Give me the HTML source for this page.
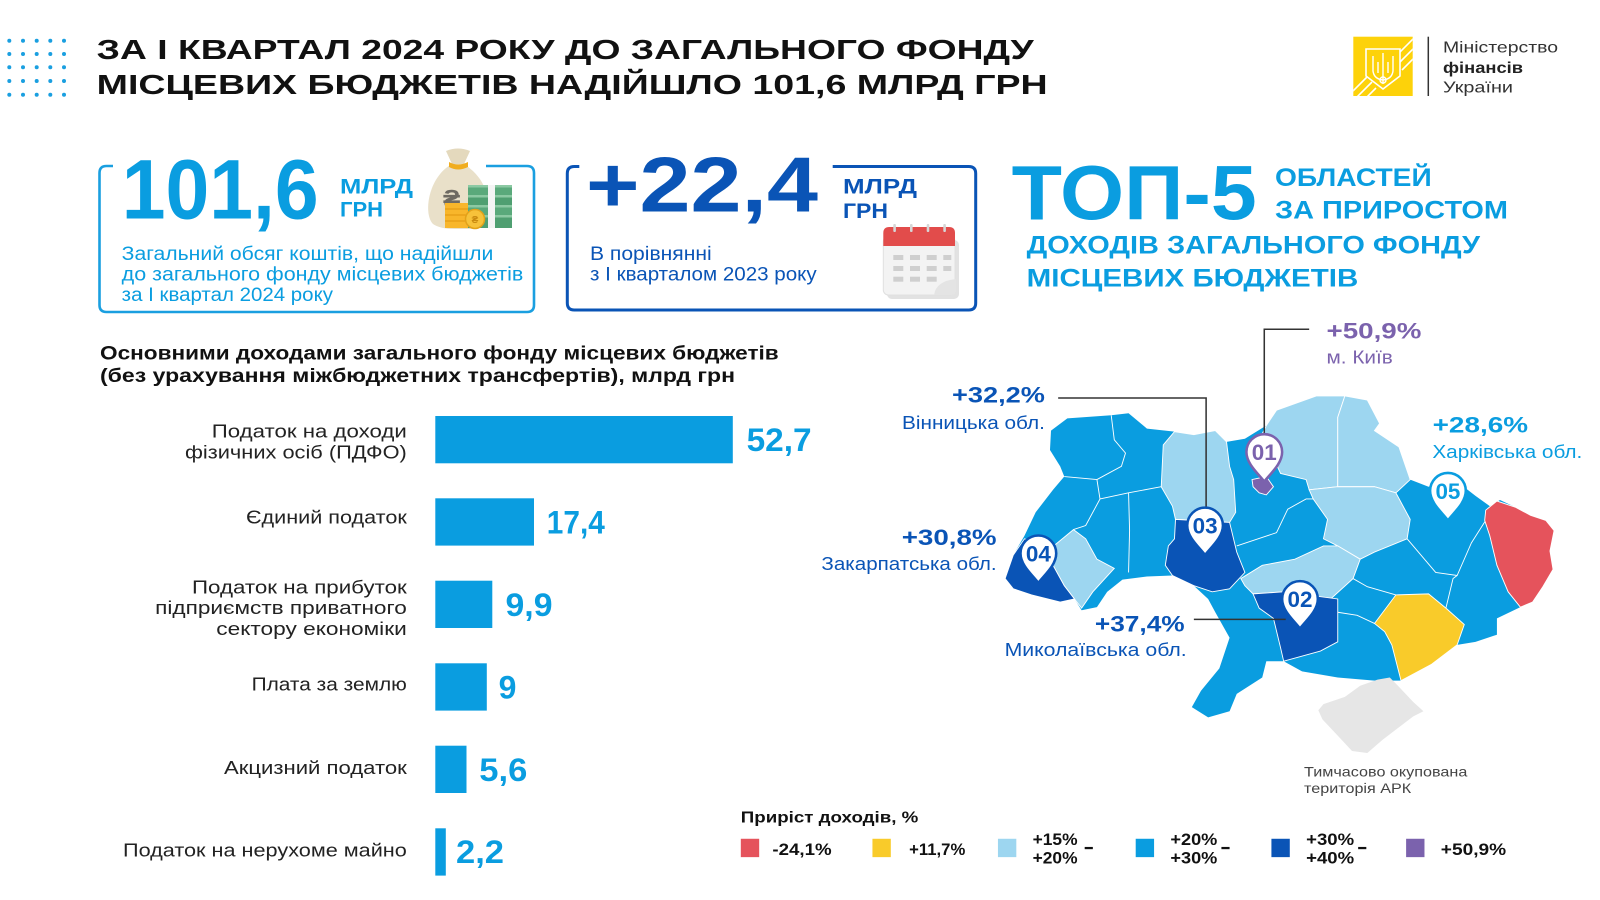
<!DOCTYPE html>
<html><head><meta charset="utf-8"><style>
html,body{margin:0;padding:0;background:#fff;}
svg{display:block;}
text{font-family:"Liberation Sans","DejaVu Sans",sans-serif;}
</style></head><body>
<svg width="1600" height="900" viewBox="0 0 1600 900" xmlns="http://www.w3.org/2000/svg">
<rect width="1600" height="900" fill="#fff"/>

<!-- dots -->
<g fill="#1a9fe0">
<circle cx="9.3" cy="40.7" r="2"/><circle cx="23" cy="40.7" r="2"/><circle cx="36.7" cy="40.7" r="2"/><circle cx="50.3" cy="40.7" r="2"/><circle cx="64" cy="40.7" r="2"/>
<circle cx="9.3" cy="54" r="2"/><circle cx="23" cy="54" r="2"/><circle cx="36.7" cy="54" r="2"/><circle cx="50.3" cy="54" r="2"/><circle cx="64" cy="54" r="2"/>
<circle cx="9.3" cy="67.3" r="2"/><circle cx="23" cy="67.3" r="2"/><circle cx="36.7" cy="67.3" r="2"/><circle cx="50.3" cy="67.3" r="2"/><circle cx="64" cy="67.3" r="2"/>
<circle cx="9.3" cy="81" r="2"/><circle cx="23" cy="81" r="2"/><circle cx="36.7" cy="81" r="2"/><circle cx="50.3" cy="81" r="2"/><circle cx="64" cy="81" r="2"/>
<circle cx="9.3" cy="94.7" r="2"/><circle cx="23" cy="94.7" r="2"/><circle cx="36.7" cy="94.7" r="2"/><circle cx="50.3" cy="94.7" r="2"/><circle cx="64" cy="94.7" r="2"/>
</g>

<!-- title -->
<text x="96.7" y="58.8" font-size="28" font-weight="bold" fill="#111" textLength="937" lengthAdjust="spacingAndGlyphs">ЗА І КВАРТАЛ 2024 РОКУ ДО ЗАГАЛЬНОГО ФОНДУ</text>
<text x="96.7" y="93.8" font-size="28" font-weight="bold" fill="#111" textLength="951" lengthAdjust="spacingAndGlyphs">МІСЦЕВИХ БЮДЖЕТІВ НАДІЙШЛО 101,6 МЛРД ГРН</text>

<!-- logo -->
<defs><clipPath id="lq"><rect x="1353.3" y="36.7" width="59.4" height="59.3"/></clipPath></defs>
<rect x="1353.3" y="36.7" width="59.4" height="59.3" fill="#fdd20a"/>
<g clip-path="url(#lq)" stroke="#fff" stroke-width="1.6">
<line x1="1392" y1="60" x2="1420" y2="32"/><line x1="1398" y1="64" x2="1426" y2="36"/><line x1="1402" y1="70" x2="1430" y2="42"/>
<line x1="1340" y1="104" x2="1370" y2="74"/><line x1="1346" y1="108" x2="1372" y2="82"/><line x1="1352" y1="112" x2="1376" y2="88"/>
</g>
<path d="M1366,49 L1400,49 L1400,76 L1383,89 L1366,76 Z" fill="#fdd20a" stroke="#fff" stroke-width="1.6"/>
<g fill="none" stroke="#fff" stroke-width="1.4">
<path d="M1383,53 L1383,84"/>
<path d="M1373,56 L1373,71 Q1374,79 1383,80 Q1392,79 1393,71 L1393,56"/>
<path d="M1378,62 L1378,73 M1388,62 L1388,73"/>
<circle cx="1383" cy="80" r="3"/>
</g>
<line x1="1428.3" y1="36.7" x2="1428.3" y2="96" stroke="#333" stroke-width="1.5"/>
<text x="1443" y="52.7" font-size="16" fill="#333" textLength="115" lengthAdjust="spacingAndGlyphs">Міністерство</text>
<text x="1443" y="72.8" font-size="16" font-weight="bold" fill="#222" textLength="80" lengthAdjust="spacingAndGlyphs">фінансів</text>
<text x="1443" y="92.7" font-size="16" fill="#333" textLength="70" lengthAdjust="spacingAndGlyphs">України</text>

<!-- box 1 -->
<path d="M113,166 L106.5,166 Q99.5,166 99.5,173 L99.5,305 Q99.5,312 106.5,312 L527,312 Q534,312 534,305 L534,173 Q534,166 527,166 L486,166" fill="none" stroke="#1a9fe0" stroke-width="2.6"/>
<text x="121.7" y="218.3" font-size="84" font-weight="bold" fill="#0a9de0" textLength="197" lengthAdjust="spacingAndGlyphs">101,6</text>
<text x="340" y="193.3" font-size="21" font-weight="bold" fill="#0a9de0" textLength="73" lengthAdjust="spacingAndGlyphs">МЛРД</text>
<text x="340" y="216.7" font-size="21" font-weight="bold" fill="#0a9de0" textLength="43" lengthAdjust="spacingAndGlyphs">ГРН</text>
<text x="121.7" y="260" font-size="19" fill="#0a9de0" textLength="371.6" lengthAdjust="spacingAndGlyphs">Загальний обсяг коштів, що надійшли</text>
<text x="121.7" y="280.5" font-size="19" fill="#0a9de0" textLength="401.6" lengthAdjust="spacingAndGlyphs">до загального фонду місцевих бюджетів</text>
<text x="121.7" y="300.8" font-size="19" fill="#0a9de0" textLength="211.3" lengthAdjust="spacingAndGlyphs">за І квартал 2024 року</text>

<!-- money bag -->
<path d="M446,151 Q458,146 470,151 L464,164 L452,164 Z" fill="#e4d9bd"/>
<path d="M452,164 C428,177 423,214 433,224 Q440,229 455,229 L470,229 Q486,229 488,214 C490,192 482,176 464,164 Z" fill="#e9e0c9"/>
<path d="M449,162 Q458,167 468,162 L468,167 Q458,172 449,167 Z" fill="#f0ad1f"/>
<text x="443" y="208" font-family="DejaVu Sans" font-weight="bold" font-size="26" fill="#6e6a62">₴</text>
<g>
<rect x="468" y="185" width="44" height="10" fill="#5aa97b"/><rect x="468" y="185" width="44" height="2.5" fill="#8cc9a3"/>
<rect x="468" y="195" width="44" height="10" fill="#4f9f71"/><rect x="468" y="195" width="44" height="2.5" fill="#8cc9a3"/>
<rect x="468" y="205" width="44" height="10" fill="#5aa97b"/><rect x="468" y="205" width="44" height="2.5" fill="#8cc9a3"/>
<rect x="468" y="215" width="44" height="13" fill="#4f9f71"/><rect x="468" y="215" width="44" height="2.5" fill="#8cc9a3"/>
<rect x="488" y="185" width="7" height="43" fill="#f4f4f4"/>
</g>
<g>
<rect x="445" y="203" width="23" height="25" fill="#f8b62b"/>
<line x1="445" y1="209" x2="468" y2="209" stroke="#e0960f" stroke-width="1"/>
<line x1="445" y1="215" x2="468" y2="215" stroke="#e0960f" stroke-width="1"/>
<line x1="445" y1="221" x2="468" y2="221" stroke="#e0960f" stroke-width="1"/>
<circle cx="475" cy="219" r="9.5" fill="#f7c23a" stroke="#e3a21a" stroke-width="1.5"/>
<text x="475" y="223" text-anchor="middle" font-family="DejaVu Sans" font-size="10" font-weight="bold" fill="#c98a10">₴</text>
</g>

<!-- box 2 -->
<path d="M579.3,166.5 L574.3,166.5 Q567.3,166.5 567.3,173.5 L567.3,303 Q567.3,310 574.3,310 L968.7,310 Q975.7,310 975.7,303 L975.7,173.5 Q975.7,166.5 968.7,166.5 L832.7,166.5" fill="none" stroke="#0a54b6" stroke-width="3"/>
<text x="586" y="211.7" font-size="78" font-weight="bold" fill="#0a54b6" textLength="232" lengthAdjust="spacingAndGlyphs">+22,4</text>
<text x="843" y="193.3" font-size="21" font-weight="bold" fill="#0a54b6" textLength="74" lengthAdjust="spacingAndGlyphs">МЛРД</text>
<text x="843" y="218" font-size="21" font-weight="bold" fill="#0a54b6" textLength="45" lengthAdjust="spacingAndGlyphs">ГРН</text>
<text x="590" y="260" font-size="19" fill="#0a54b6" textLength="121.7" lengthAdjust="spacingAndGlyphs">В порівнянні</text>
<text x="590" y="280.3" font-size="19" fill="#0a54b6" textLength="226.7" lengthAdjust="spacingAndGlyphs">з І кварталом 2023 року</text>

<!-- calendar -->
<rect x="887" y="240" width="72" height="59" rx="5" fill="#e2e2e2"/>
<rect x="883.3" y="236.7" width="71.7" height="58.3" rx="5" fill="#f3f3f3" stroke="#e0e0e0" stroke-width="1"/>
<path d="M883.3,246 L883.3,233 Q883.3,227 889.3,227 L949,227 Q955,227 955,233 L955,246 Z" fill="#e24c4b"/>
<g fill="#d6d6d6">
<rect x="893.3" y="224" width="2.6" height="8" rx="1"/><rect x="910" y="224" width="2.6" height="8" rx="1"/><rect x="926.7" y="224" width="2.6" height="8" rx="1"/><rect x="943.3" y="224" width="2.6" height="8" rx="1"/>
</g>
<g fill="#cfcfcf">
<rect x="893.3" y="255" width="10" height="5"/><rect x="910" y="255" width="10" height="5"/><rect x="926.7" y="255" width="10" height="5"/><rect x="943.3" y="255" width="8" height="5"/>
<rect x="893.3" y="266" width="10" height="5"/><rect x="910" y="266" width="10" height="5"/><rect x="926.7" y="266" width="10" height="5"/><rect x="943.3" y="266" width="8" height="5"/>
<rect x="893.3" y="276.7" width="10" height="5"/><rect x="910" y="276.7" width="10" height="5"/><rect x="926.7" y="276.7" width="10" height="5"/>
</g>
<path d="M934,295 Q936,281 956,279 L956,290 Q956,295 951,295 Z" fill="#e4e4e4"/>

<!-- TOP-5 -->
<text x="1011.7" y="219.3" font-size="77" font-weight="bold" fill="#0a9de0" textLength="245" lengthAdjust="spacingAndGlyphs">ТОП-5</text>
<text x="1275" y="186" font-size="25" font-weight="bold" fill="#0a9de0" textLength="156.7" lengthAdjust="spacingAndGlyphs">ОБЛАСТЕЙ</text>
<text x="1275" y="218.3" font-size="25" font-weight="bold" fill="#0a9de0" textLength="233" lengthAdjust="spacingAndGlyphs">ЗА ПРИРОСТОМ</text>
<text x="1026.7" y="253.3" font-size="25" font-weight="bold" fill="#0a9de0" textLength="453.3" lengthAdjust="spacingAndGlyphs">ДОХОДІВ ЗАГАЛЬНОГО ФОНДУ</text>
<text x="1026.7" y="286.7" font-size="25" font-weight="bold" fill="#0a9de0" textLength="331.6" lengthAdjust="spacingAndGlyphs">МІСЦЕВИХ БЮДЖЕТІВ</text>

<!-- bar chart -->
<text x="100" y="359.3" font-size="19" font-weight="bold" fill="#111" textLength="678.7" lengthAdjust="spacingAndGlyphs">Основними доходами загального фонду місцевих бюджетів</text>
<text x="100" y="382" font-size="19" font-weight="bold" fill="#111" textLength="635" lengthAdjust="spacingAndGlyphs">(без урахування міжбюджетних трансфертів), млрд грн</text>

<g fill="#0a9de0">
<rect x="435.3" y="416" width="297.5" height="47.3"/>
<rect x="435.3" y="498.3" width="98.7" height="47.3"/>
<rect x="435.3" y="580.7" width="57" height="47.3"/>
<rect x="435.3" y="663.3" width="51.5" height="47.3"/>
<rect x="435.3" y="745.7" width="31.2" height="47.3"/>
<rect x="435.3" y="828.3" width="10.5" height="47.3"/>
</g>
<g font-size="18" fill="#222" text-anchor="end">
<text x="406.8" y="437.3" textLength="195" lengthAdjust="spacingAndGlyphs">Податок на доходи</text>
<text x="406.8" y="458.3" textLength="221.8" lengthAdjust="spacingAndGlyphs">фізичних осіб (ПДФО)</text>
<text x="406.8" y="523.3" textLength="160.8" lengthAdjust="spacingAndGlyphs">Єдиний податок</text>
<text x="406.8" y="593.3" textLength="214.8" lengthAdjust="spacingAndGlyphs">Податок на прибуток</text>
<text x="406.8" y="614" textLength="251.6" lengthAdjust="spacingAndGlyphs">підприємств приватного</text>
<text x="406.8" y="635" textLength="190.5" lengthAdjust="spacingAndGlyphs">сектору економіки</text>
<text x="406.8" y="690.7" textLength="155.2" lengthAdjust="spacingAndGlyphs">Плата за землю</text>
<text x="406.8" y="774" textLength="182.8" lengthAdjust="spacingAndGlyphs">Акцизний податок</text>
<text x="406.8" y="856.7" textLength="283.8" lengthAdjust="spacingAndGlyphs">Податок на нерухоме майно</text>
</g>
<g font-size="32" font-weight="bold" fill="#0a9de0">
<text x="746.6" y="451" textLength="65" lengthAdjust="spacingAndGlyphs">52,7</text>
<text x="546.8" y="533.5" textLength="58" lengthAdjust="spacingAndGlyphs">17,4</text>
<text x="505.5" y="616" textLength="47" lengthAdjust="spacingAndGlyphs">9,9</text>
<text x="498.6" y="698.5">9</text>
<text x="479.3" y="781" textLength="48" lengthAdjust="spacingAndGlyphs">5,6</text>
<text x="456" y="863" textLength="48" lengthAdjust="spacingAndGlyphs">2,2</text>
</g>

<!-- map & legend (perceived coords scaled) -->
<g transform="scale(1.0204)">
<!-- base -->
<polygon fill="#0a9de0" points="1030,422 1046,410 1089,407 1106,405 1124,420 1151,423 1170,426 1191,422 1202,433 1220,430 1241,417 1251,402 1290,388 1318,388 1340,392 1352,415 1347,422 1371,438 1382,470 1400,477 1428,472 1446,486 1460,496 1470,490 1485,497 1500,505 1515,510 1523,520 1519,540 1522,558 1512,575 1502,590 1490,595 1467,606 1467,622 1446,629 1428,632 1403,651 1373,667 1347,667 1311,664 1276,658 1258,648 1241,648 1237,664 1212,680 1205,697 1184,703 1168,693 1177,677 1195,655 1205,625 1191,600 1184,587 1170,574 1149,564 1124,565 1100,568 1085,580 1075,595 1060,598 1053,587 1039,590 1011,583 993,577 985,567 993,544 1004,525 1015,502 1032,480 1043,467 1039,457 1029,441"/>
<g fill="none" stroke="#fff" stroke-width="0.9">
<polyline points="1089,407 1092,431 1103,444 1099,457 1075,470"/>
<polyline points="1043,467 1075,470 1078,489 1106,483 1138,477"/>
<polyline points="1078,489 1064,515 1052,519"/>
<polyline points="1106,483 1107,520 1106,561"/>
<polyline points="1212,535 1251,522 1262,499 1280,489 1287,489"/>
<polyline points="1311,600 1330,603 1347,611"/>
<polyline points="1379,528 1407,561 1428,564 1442,532 1456,510"/>
<polyline points="1417,596 1424,567 1428,564"/>
<polyline points="1326,567 1340,575 1368,583"/>
</g>
<g stroke="#fff" stroke-width="0.9">
<polygon fill="#9dd6f0" points="1140,436 1151,423 1170,426 1191,422 1202,433 1205,457 1209,470 1211,502 1205,512 1152,509 1149,496 1138,477"/>
<polygon fill="#9dd6f0" points="1237,425 1241,417 1251,402 1290,388 1318,388 1311,409 1311,447 1311,477 1283,480 1280,470 1255,464 1241,434"/>
<polygon fill="#9dd6f0" points="1318,388 1340,392 1352,415 1347,422 1371,438 1382,470 1368,483 1347,477 1311,477 1311,409"/>
<polygon fill="#9dd6f0" points="1283,480 1311,477 1347,477 1368,483 1382,509 1379,528 1347,541 1333,548 1311,535 1297,528 1301,509 1287,489"/>
<polygon fill="#9dd6f0" points="1216,567 1237,554 1269,548 1297,535 1311,535 1333,548 1326,567 1304,587 1258,580 1228,582 1220,574"/>
<polygon fill="#9dd6f0" points="1029,538 1052,519 1064,528 1075,548 1092,557 1071,580 1060,596 1053,587 1043,574 1032,554"/>
<polygon fill="#0a54b6" points="985,567 993,544 1004,528 1029,538 1032,554 1043,574 1053,587 1039,590 1011,583 993,577"/>
<polygon fill="#0a54b6" points="1152,509 1205,512 1212,541 1220,561 1205,577 1188,580 1170,574 1149,564 1142,554 1145,535 1151,528"/>
<polygon fill="#0a54b6" points="1228,582 1258,580 1311,587 1311,629 1294,638 1258,648 1255,635 1248,606 1234,596"/>
<polygon fill="#e5535c" points="1456,500 1467,491 1485,497 1500,505 1515,510 1523,520 1519,540 1522,558 1512,575 1502,590 1490,595 1478,580 1467,554 1460,525 1455,510"/>
<polygon fill="#f9cb2a" points="1347,611 1368,583 1400,582 1417,596 1435,612 1428,632 1403,651 1373,667 1364,632 1357,619"/>
<polygon fill="#7b62ad" points="1227,470 1241,467 1248,477 1241,485 1234,483 1228,477"/>
</g>
<polygon fill="#e6e6e6" points="1297,690 1318,683 1333,672 1350,666 1362,664 1370,672 1385,688 1395,697 1385,702 1372,712 1355,725 1340,738 1325,736 1312,722 1296,705 1292,696"/>

<!-- leader lines -->
<g fill="none" stroke="#333" stroke-width="1.5">
<polyline points="1283,322.7 1239,322.7 1239,426"/>
<polyline points="1037,390 1182,390 1182,498"/>
<line x1="1170" y1="607" x2="1260" y2="607"/>
</g>

<!-- pins -->
<g stroke-width="2.5" fill="#fff">
<path transform="translate(1239,443)" stroke="#7b62ad" d="M0,29 C-5,22 -17.5,12 -17.5,0 A17.5,17.5 0 1 1 17.5,0 C17.5,12 5,22 0,29 Z"/>
<path transform="translate(1181,515)" stroke="#0a54b6" d="M0,29 C-5,22 -17.5,12 -17.5,0 A17.5,17.5 0 1 1 17.5,0 C17.5,12 5,22 0,29 Z"/>
<path transform="translate(1017.6,542.3)" stroke="#0a54b6" d="M0,29 C-5,22 -17.5,12 -17.5,0 A17.5,17.5 0 1 1 17.5,0 C17.5,12 5,22 0,29 Z"/>
<path transform="translate(1274,587)" stroke="#0a54b6" d="M0,29 C-5,22 -17.5,12 -17.5,0 A17.5,17.5 0 1 1 17.5,0 C17.5,12 5,22 0,29 Z"/>
<path transform="translate(1419,481)" stroke="#0a9de0" d="M0,29 C-5,22 -17.5,12 -17.5,0 A17.5,17.5 0 1 1 17.5,0 C17.5,12 5,22 0,29 Z"/>
</g>
<g font-size="22" font-weight="bold" text-anchor="middle">
<text x="1239" y="451" fill="#7b62ad">01</text>
<text x="1181" y="523" fill="#0a54b6">03</text>
<text x="1017.6" y="550.3" fill="#0a54b6">04</text>
<text x="1274" y="595" fill="#0a54b6">02</text>
<text x="1419" y="489" fill="#0a9de0">05</text>
</g>

<!-- map labels -->
<text x="1300" y="331.5" font-size="21.5" font-weight="bold" fill="#7b62ad" textLength="93" lengthAdjust="spacingAndGlyphs">+50,9%</text>
<text x="1300" y="356" font-size="18" fill="#7b62ad" textLength="65" lengthAdjust="spacingAndGlyphs">м. Київ</text>
<text x="933" y="394.6" font-size="21.5" font-weight="bold" fill="#0a54b6" textLength="91" lengthAdjust="spacingAndGlyphs">+32,2%</text>
<text x="884" y="420.4" font-size="18" fill="#0a54b6" textLength="140" lengthAdjust="spacingAndGlyphs">Вінницька обл.</text>
<text x="1404" y="424" font-size="21.5" font-weight="bold" fill="#0a9de0" textLength="93.5" lengthAdjust="spacingAndGlyphs">+28,6%</text>
<text x="1403.7" y="449" font-size="18" fill="#0a9de0" textLength="147" lengthAdjust="spacingAndGlyphs">Харківська обл.</text>
<text x="883.7" y="534" font-size="21.5" font-weight="bold" fill="#0a54b6" textLength="93" lengthAdjust="spacingAndGlyphs">+30,8%</text>
<text x="805" y="558.6" font-size="18" fill="#0a54b6" textLength="171.7" lengthAdjust="spacingAndGlyphs">Закарпатська обл.</text>
<text x="1073" y="619" font-size="21.5" font-weight="bold" fill="#0a54b6" textLength="88" lengthAdjust="spacingAndGlyphs">+37,4%</text>
<text x="984.5" y="643" font-size="18" fill="#0a54b6" textLength="178.5" lengthAdjust="spacingAndGlyphs">Миколаївська обл.</text>

<text x="1278" y="761" font-size="13.5" fill="#444" textLength="160" lengthAdjust="spacingAndGlyphs">Тимчасово окупована</text>
<text x="1278" y="777" font-size="13.5" fill="#444" textLength="105" lengthAdjust="spacingAndGlyphs">територія АРК</text>

<!-- legend -->
<text x="726" y="806" font-size="15.5" font-weight="bold" fill="#111" textLength="174" lengthAdjust="spacingAndGlyphs">Приріст доходів, %</text>
<rect x="726" y="822" width="18" height="18" fill="#e5535c"/>
<rect x="855" y="822" width="18" height="18" fill="#f9cb2a"/>
<rect x="978" y="822" width="18" height="18" fill="#9dd6f0"/>
<rect x="1113" y="822" width="18" height="18" fill="#0a9de0"/>
<rect x="1246" y="822" width="18" height="18" fill="#0a54b6"/>
<rect x="1378" y="822" width="18" height="18" fill="#7b62ad"/>
<g font-size="16.5" font-weight="bold" fill="#111">
<text x="757" y="838" textLength="58" lengthAdjust="spacingAndGlyphs">-24,1%</text>
<text x="891" y="838" textLength="55" lengthAdjust="spacingAndGlyphs">+11,7%</text>
<text x="1012" y="828" textLength="44" lengthAdjust="spacingAndGlyphs">+15%</text>
<text x="1012" y="846" textLength="44" lengthAdjust="spacingAndGlyphs">+20%</text>
<text x="1147" y="828" textLength="46" lengthAdjust="spacingAndGlyphs">+20%</text>
<text x="1147" y="846" textLength="46" lengthAdjust="spacingAndGlyphs">+30%</text>
<text x="1280" y="828" textLength="47" lengthAdjust="spacingAndGlyphs">+30%</text>
<text x="1280" y="846" textLength="47" lengthAdjust="spacingAndGlyphs">+40%</text>
<text x="1412" y="838" textLength="64" lengthAdjust="spacingAndGlyphs">+50,9%</text>
</g>
<g fill="#111">
<rect x="1063" y="830" width="8" height="2.2"/>
<rect x="1197" y="830" width="8" height="2.2"/>
<rect x="1331" y="830" width="8" height="2.2"/>
</g>
</g>
</svg>
</body></html>
